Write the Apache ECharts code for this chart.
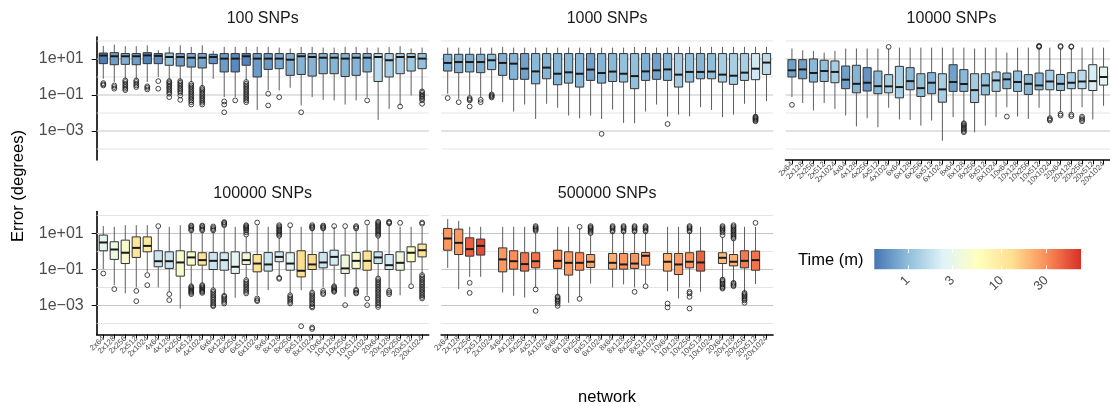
<!DOCTYPE html>
<html><head><meta charset="utf-8">
<script src="https://cdn.jsdelivr.net/npm/echarts@6/dist/echarts.min.js"></script>
<style>html,body{margin:0;padding:0;background:#fff}#chart{width:1110px;height:406px}</style>
</head><body><div id="chart"></div>
<script>
// ---------- categories & tick labels ----------
const networks = ['2x64','2x128','2x256','2x512','2x1024','4x64','4x128','4x256','4x512','4x1024',
  '6x64','6x128','6x256','6x512','6x1024','8x64','8x128','8x256','8x512','8x1024',
  '10x64','10x128','10x256','10x512','10x1024','20x64','20x128','20x256','20x512','20x1024'];
const panelTitles = ['100 SNPs','1000 SNPs','10000 SNPs','100000 SNPs','500000 SNPs'];
// y values are log10(error in degrees)
const yMin = -4.61, yMax = 2.22;
const yMajorTicks = [1, -1, -3];
const yTickLabels = ['1e+01', '1e\u221201', '1e\u221203'];
const yGridValues = [2, 1, 0, -1, -2, -3, -4];
const legendTicks = [1, 3, 10, 30];
const timeMin = 0.44, timeMax = 70;
const palette = ['#4575B4','#91BFDB','#E0F3F8','#FFFFBF','#FEE090','#FC8D59','#D73027'];

// ---------- 100 SNPs ----------
const snp100Hi  = [1.72,1.80,1.71,1.71,1.76,1.48,1.67,1.76,1.67,1.76,1.45,1.67,1.67,1.67,1.67,1.67,1.63,1.58,1.67,1.67,1.63,1.63,1.67,1.67,1.63,1.63,1.67,1.71,1.58,1.63];
const snp100Q3  = [1.33,1.35,1.30,1.30,1.35,1.30,1.33,1.30,1.30,1.30,1.26,1.30,1.30,1.30,1.30,1.30,1.30,1.30,1.30,1.30,1.30,1.30,1.30,1.30,1.30,1.30,1.30,1.30,1.30,1.30];
const snp100Med = [1.19,1.15,1.15,1.15,1.20,1.17,1.11,1.11,1.07,1.07,1.11,1.02,1.02,1.15,1.02,1.02,1.02,0.96,1.15,1.11,1.07,1.07,1.02,1.07,1.07,1.11,0.93,1.11,1.11,1.02];
const snp100Q1  = [0.74,0.68,0.70,0.68,0.74,0.74,0.65,0.61,0.55,0.50,0.74,0.28,0.28,0.65,0.00,0.42,0.46,0.09,0.14,0.05,0.18,0.18,0.03,0.09,0.28,-0.25,0.00,0.18,0.33,0.46];
const snp100Lo  = [-0.10,-0.28,-0.10,-0.10,-0.28,0.00,-0.15,-0.19,-0.28,-0.56,-0.10,-1.12,-1.12,-0.19,-1.83,-0.75,-0.75,-0.60,-1.58,-1.12,-1.27,-1.30,-1.53,-1.30,-1.12,-2.38,-1.77,-1.58,-1.03,-0.75];
const snp100Time = [0.48,0.7,0.85,0.7,0.5,0.58,1.1,0.7,0.78,0.78,0.6,0.68,0.55,0.52,0.68,0.68,0.8,0.85,0.9,0.9,0.9,0.9,0.9,0.9,0.85,1.6,1.3,1.3,1.2,1.05];
const snp100Out = [[-0.34,-0.41,-0.47],[-0.47,-0.56,-0.65],[-0.19,-0.28,-0.38,-0.47,-0.56,-0.65,-0.73],[-0.19,-0.28,-0.38,-0.47,-0.56],[-0.52,-0.60,-0.69],
  [-0.23,-0.65],[-0.23,-0.30,-0.38,-0.47,-0.56,-0.65,-0.75,-0.84,-0.93,-1.12],[-0.23,-0.32,-0.41,-0.50,-0.60,-0.69,-0.78,-0.88,-1.03,-1.27],
  [-0.38,-0.47,-0.56,-0.65,-0.75,-0.84,-0.93,-1.03,-1.12,-1.21,-1.30,-1.40,-1.53],[-0.60,-0.69,-0.78,-0.88,-0.97,-1.07,-1.16,-1.25,-1.34,-1.43,-1.53],
  [],[-1.36,-1.53,-1.96],[-1.30],[-0.28,-0.38,-0.47,-0.56,-0.65,-0.75,-0.84,-0.93,-1.03,-1.12,-1.21,-1.30,-1.40],[],
  [-0.93,-1.58],[-1.12],[],[-1.96],[],[],[],[],[],[-1.30],[],[],[-1.64],[],[-0.80,-0.88,-0.97,-1.05,-1.12,-1.21,-1.30,-1.49]];

// ---------- 1000 SNPs ----------
const snp1000Hi  = [1.63,1.63,1.63,1.63,1.63,1.67,1.63,1.63,1.63,1.63,1.63,1.63,1.63,1.63,1.63,1.63,1.63,1.67,1.67,1.63,1.63,1.67,1.67,1.67,1.67,1.67,1.67,1.67,1.67,1.67];
const snp1000Q3  = [1.26,1.26,1.26,1.26,1.26,1.30,1.30,1.30,1.30,1.30,1.30,1.30,1.30,1.30,1.30,1.30,1.30,1.30,1.30,1.30,1.30,1.30,1.30,1.30,1.30,1.30,1.30,1.30,1.30,1.30];
const snp1000Med = [0.78,0.83,0.83,0.83,0.93,0.78,0.74,0.46,0.31,0.52,0.18,0.26,0.18,0.41,0.22,0.30,0.18,0.05,0.31,0.37,0.42,0.13,0.28,0.28,0.30,0.13,0.07,0.24,0.46,0.80];
const snp1000Q1  = [0.33,0.24,0.28,0.24,0.41,0.09,-0.13,-0.13,-0.38,-0.10,-0.43,-0.34,-0.56,-0.19,-0.34,-0.25,-0.28,-0.65,-0.19,-0.13,-0.19,-0.56,-0.28,-0.10,-0.10,-0.28,-0.41,-0.19,-0.15,0.14];
const snp1000Lo  = [-0.93,-1.21,-1.03,-1.12,-0.84,-1.40,-1.92,-1.53,-2.33,-1.49,-1.71,-2.14,-2.29,-2.14,-2.33,-1.81,-2.55,-2.57,-1.92,-1.53,-2.20,-2.09,-2.18,-1.68,-1.83,-2.23,-2.09,-1.49,-2.14,-1.34];
const snp1000Time = [0.85,0.85,0.85,0.85,1.0,0.85,0.9,0.72,0.95,0.9,0.9,0.95,0.95,0.72,0.9,0.95,1.05,1.05,0.85,0.72,0.9,1.25,1.05,0.9,1.0,1.3,1.3,1.3,2.0,1.6];
const snp1000Out = [[-1.17],[-1.40],[-1.17,-1.24,-1.30,-1.64],[-1.27,-1.40],[-0.97,-1.03,-1.08,-1.14],[],[],[],[],[],[],[],[],[],[-3.16],
  [],[],[],[],[],[-2.61],[],[],[],[],[],[],[],[-2.20,-2.25,-2.30,-2.35,-2.40,-2.46],[]];

// ---------- 10000 SNPs ----------
const snp10000Hi  = [1.58,1.48,1.45,1.35,1.45,1.58,1.58,1.58,1.58,1.58,1.63,1.63,1.63,1.63,1.63,1.63,1.63,1.58,1.63,1.63,1.35,1.63,1.63,1.58,1.63,1.58,1.58,1.63,1.63,1.63];
const snp10000Q3  = [0.96,0.96,1.00,0.93,0.89,0.61,0.65,0.52,0.33,0.13,0.59,0.52,0.18,0.24,0.18,0.68,0.41,0.18,0.18,0.28,0.22,0.33,0.13,0.22,0.37,0.14,0.24,0.37,0.68,0.55];
const snp10000Med = [0.37,0.42,0.22,0.33,0.28,-0.15,-0.38,-0.32,-0.51,-0.52,-0.56,-0.23,-0.62,-0.32,-0.69,-0.28,-0.39,-0.73,-0.47,-0.19,-0.13,-0.28,-0.38,-0.47,-0.25,-0.38,-0.32,-0.25,-0.23,0.00];
const snp10000Q1  = [0.00,-0.10,-0.28,-0.25,-0.32,-0.65,-0.88,-0.78,-0.93,-0.88,-1.16,-0.71,-1.08,-0.93,-1.40,-0.80,-0.80,-1.42,-0.99,-0.80,-0.65,-0.80,-0.97,-0.71,-0.71,-0.75,-0.65,-0.65,-0.75,-0.45];
const snp10000Lo  = [-1.12,-1.45,-1.86,-1.45,-1.77,-2.14,-2.74,-2.29,-2.79,-1.71,-2.36,-2.38,-2.70,-2.42,-3.54,-2.23,-2.51,-3.07,-2.70,-2.23,-1.68,-2.20,-2.33,-1.71,-2.20,-1.96,-1.96,-1.68,-2.36,-1.60];
const snp10000Time = [0.72,0.72,0.95,1.05,1.3,0.72,0.9,0.62,0.95,1.3,1.3,0.95,1.05,0.9,1.3,0.72,0.95,1.25,1.05,1.3,0.9,1.05,0.95,0.95,1.3,1.05,1.3,1.6,2.2,2.6];
const snp10000Out = [[-1.55],[],[],[],[],[],[],[],[],[1.67],[],[],[],[],[],[],[-2.57,-2.63,-2.70,-2.77,-2.85,-2.92,-3.00,-3.07],[],[],[],
  [-2.20],[],[],[1.67,1.70,1.73],[-2.29,-2.36,-2.42],[1.67,1.72,-2.05,-2.14],[1.67,1.70,-2.09,-2.18],[-2.20,-2.29,-2.38,-2.46],[],[]];

// ---------- 100000 SNPs ----------
const snp100000Hi  = [1.41,1.37,1.46,1.46,1.46,1.28,1.37,1.46,1.09,1.09,1.09,1.33,1.37,0.81,1.46,1.37,0.76,1.37,1.37,1.19,1.19,1.37,1.28,1.19,1.46,0.76,1.46,1.37,1.37,1.37];
const snp100000Q3  = [0.91,0.54,0.63,0.81,0.81,0.04,-0.02,0.04,-0.02,-0.07,-0.06,-0.07,-0.02,-0.07,-0.17,-0.06,-0.02,-0.07,0.04,-0.17,-0.06,0.07,-0.20,-0.06,0.02,-0.02,-0.17,-0.02,0.26,0.41];
const snp100000Med = [0.50,0.11,-0.07,0.20,0.31,-0.54,-0.54,-0.61,-0.33,-0.48,-0.52,-0.48,-0.85,-0.48,-0.67,-0.72,-0.30,-0.67,-1.07,-0.72,-0.61,-0.30,-0.94,-0.52,-0.52,-0.33,-0.76,-0.63,-0.07,0.07];
const snp100000Q1  = [0.04,-0.44,-0.67,-0.33,-0.02,-0.85,-0.94,-1.37,-0.76,-0.76,-1.00,-1.04,-1.22,-0.72,-1.13,-1.09,-0.57,-1.04,-1.41,-1.00,-0.91,-0.76,-1.22,-0.94,-1.04,-0.67,-1.00,-1.04,-0.57,-0.30];
const snp100000Lo  = [-0.98,-1.87,-2.33,-2.00,-1.13,-2.00,-2.24,-3.17,-1.87,-1.78,-2.06,-2.39,-2.57,-1.50,-2.43,-2.15,-1.37,-2.33,-2.15,-2.19,-2.00,-1.87,-2.52,-2.06,-2.43,-1.41,-2.06,-2.43,-1.78,-1.26];
const snp100000Time = [2.7,3.3,4.5,11,10,1.9,1.9,4.5,4.5,12,1.9,2.0,2.7,3.8,12,1.9,2.0,2.7,13,14,1.9,2.1,3.5,4.5,12,1.9,2.2,3.5,5,12];
const snp100000Out = [[-1.22],[-2.09],[],[-2.19,-2.76],[-1.31,-1.87],[1.41],[-2.37,-2.70],[],
  [1.17,1.24,1.31,1.39,1.44,-1.93,-2.00,-2.06,-2.13,-2.19,-2.24,-2.30,-2.37],
  [1.17,1.24,1.31,1.39,1.44,-1.87,-1.93,-2.00,-2.06,-2.13,-2.19,-2.24,-2.30],
  [1.17,1.24,1.31,1.39,-2.15,-2.24,-2.33,-2.43,-2.52,-2.61,-2.70,-2.80,-2.89,-2.98,-3.04],
  [1.46,1.52,1.59,1.63,-2.46,-2.52,-2.61,-2.70,-2.80,-2.89],[],
  [0.94,1.06,1.17,1.24,1.30,1.35,1.41,1.46,-1.59,-1.69,-1.78,-1.87,-1.96,-2.06,-2.15,-2.24,-2.33],
  [1.61,-2.61,-2.70,-2.76],[],
  [0.87,0.94,1.02,1.09,1.17,1.24,1.31,1.39,1.46,-1.46,-1.52],
  [1.46,-2.43,-2.52,-2.61,-2.70,-2.80,-2.89],[-4.15],
  [1.28,1.33,1.39,1.46,-2.28,-2.37,-2.46,-2.56,-2.65,-2.74,-2.85,-2.93,-3.04,-3.11,-4.22,-4.30],
  [1.28,1.33,1.39,1.44,-2.19,-2.30,-2.37],[1.41,-1.93,-2.00,-2.06,-2.13,-2.19,-2.24],[1.41,-2.98],
  [1.28,1.35,1.41,-2.13,-2.19,-2.28,-2.33],[1.61,-2.61,-2.98],
  [0.87,0.94,1.02,1.09,1.17,1.24,1.31,1.39,1.46,1.52,1.59,1.65,-1.50,-1.59,-1.69,-1.78,-1.87,-1.96,-2.06,-2.15,-2.24,-2.33,-2.43,-2.52,-2.61,-2.70,-2.80,-2.89,-2.98,-3.08],
  [1.56,1.61,1.65,-2.19,-2.28,-2.37],[1.59],[-1.93],
  [1.54,1.61,-1.31,-1.41,-1.50,-1.59,-1.69,-1.78,-1.87,-1.96,-2.06,-2.15,-2.24,-2.33,-2.43,-2.52,-2.61]];

// ---------- 500000 SNPs (x1024 networks not run) ----------
const snp500000Hi  = [1.80,1.70,1.37,1.37,null,1.37,1.37,1.37,1.06,null,1.37,1.37,1.28,0.91,null,1.06,1.06,1.06,1.06,null,1.37,1.37,1.06,1.37,null,0.81,0.63,1.37,1.37,null];
const snp500000Q3  = [1.28,1.24,0.76,0.69,null,0.20,0.04,-0.07,-0.07,null,0.07,-0.02,-0.07,-0.17,null,-0.11,-0.11,-0.11,-0.06,null,-0.11,-0.11,-0.07,0.02,null,-0.07,-0.17,0.04,0.02,null];
const snp500000Med = [0.72,0.48,0.13,0.31,null,-0.44,-0.54,-0.70,-0.54,null,-0.52,-0.63,-0.63,-0.57,null,-0.63,-0.72,-0.67,-0.24,null,-0.57,-0.72,-0.57,-0.61,null,-0.35,-0.57,-0.52,-0.48,null];
const snp500000Q1  = [0.07,-0.17,-0.26,-0.20,null,-1.13,-0.98,-1.09,-0.91,null,-0.94,-1.31,-1.04,-0.89,null,-0.98,-0.98,-0.94,-0.76,null,-1.09,-1.28,-0.91,-1.09,null,-0.67,-0.80,-0.91,-1.04,null];
const snp500000Lo  = [-0.91,-2.09,-1.41,-1.41,null,-2.28,-2.46,-2.56,-2.00,null,-2.43,-2.85,-2.52,-1.78,null,-2.00,-1.83,-2.00,-1.78,null,-2.20,-2.61,-2.00,-2.24,null,-1.50,-1.69,-2.24,-1.81,null];
const snp500000Time = [27,27,45,55,null,27,30,38,38,null,30,27,30,24,null,22,28,28,27,null,21,27,28,45,null,19,21,36,38,null];
const snp500000Out = [[],[],[-1.74,-2.30],[],[],[],[],[],[1.15,1.22,1.28,1.35,1.41,-2.11,-3.30],[],
  [-2.50,-2.57,-2.65,-2.72,-2.80,-2.89,-3.02],[],[1.37,-2.63],[1.02,1.09,1.17,1.24,1.30,1.35,1.41],[],
  [1.11,1.19,1.28,1.35,1.41],[1.11,1.19,1.28,1.35,1.41],[1.11,1.19,1.28,1.35,1.41,-2.24],[1.11,1.19,1.28,1.35,1.41,-1.93],[],
  [-2.89,-3.11],[],[1.11,1.19,1.28,1.35,1.41,-2.24,-2.33,-2.52,-3.17],[],[],
  [0.91,1.06,1.15,1.22,1.28,1.35,1.41,-1.56,-1.63,-1.70,-1.78,-1.85,-1.93,-2.00,-2.06],
  [0.72,0.80,0.87,0.94,1.02,1.09,1.17,1.24,1.31,1.39,1.46,-1.74,-1.80,-1.87,-1.93],
  [-2.30,-2.37,-2.43,-2.50,-2.57,-2.65,-2.72,-2.85],[1.59],[]];

// ---------- build ----------
const FONT = '"Liberation Sans", Arial, Helvetica, sans-serif';
const lMin = Math.log10(timeMin), lMax = Math.log10(timeMax);
function hexToRgb(h){return [parseInt(h.slice(1,3),16),parseInt(h.slice(3,5),16),parseInt(h.slice(5,7),16)];}
function timeColor(t){
  let f = (Math.log10(t) - lMin) / (lMax - lMin);
  f = Math.max(0, Math.min(1, f));
  const p = f * (palette.length - 1);
  const i = Math.min(palette.length - 2, Math.floor(p));
  const r = p - i;
  const a = hexToRgb(palette[i]), b = hexToRgb(palette[i+1]);
  const c = a.map((v,k)=>Math.round(v + (b[k]-v)*r));
  return 'rgb(' + c.join(',') + ')';
}

const panels = [
  {lo:snp100Lo, q1:snp100Q1, med:snp100Med, q3:snp100Q3, hi:snp100Hi, time:snp100Time, out:snp100Out},
  {lo:snp1000Lo, q1:snp1000Q1, med:snp1000Med, q3:snp1000Q3, hi:snp1000Hi, time:snp1000Time, out:snp1000Out},
  {lo:snp10000Lo, q1:snp10000Q1, med:snp10000Med, q3:snp10000Q3, hi:snp10000Hi, time:snp10000Time, out:snp10000Out},
  {lo:snp100000Lo, q1:snp100000Q1, med:snp100000Med, q3:snp100000Q3, hi:snp100000Hi, time:snp100000Time, out:snp100000Out},
  {lo:snp500000Lo, q1:snp500000Q1, med:snp500000Med, q3:snp500000Q3, hi:snp500000Hi, time:snp500000Time, out:snp500000Out}
];

const gridRects = [
  {left:96.7, top:37, width:332, height:123},
  {left:441.1, top:37, width:332, height:123},
  {left:785.5, top:37, width:332, height:123},
  {left:96.7, top:211.5, width:332, height:123},
  {left:441.1, top:211.5, width:332, height:123}
];
const legendRect = {left:874.3, top:249, width:206.7, height:20.3};

const catIdx = networks.map((_, i) => i);
const evenIdx = catIdx.filter(i => i % 2 === 0);
const oddIdx = catIdx.filter(i => i % 2 === 1);
const grids = [], xAxes = [], yAxes = [], series = [];
const xLabelStyle = {rotate:45, margin:3, fontSize:7.8, color:'#4d4d4d', fontFamily:FONT,
  hideOverlap:false, showMinLabel:true, showMaxLabel:true, formatter:(v)=>networks[Math.round(v)]};

panels.forEach((p, gi) => {
  grids.push(Object.assign({containLabel:false}, gridRects[gi]));
  const showX = gi >= 2, showY = (gi === 0 || gi === 3);
  const xi = xAxes.length;
  // main axis: line + all ticks + even labels
  xAxes.push({
    type:'value', gridIndex:gi, min:-0.6, max:29.6, show:showX, position:'bottom',
    splitLine:{show:false},
    axisLine:{show:true, onZero:false, lineStyle:{color:'#000', width:1.6}},
    axisTick:{show:true, customValues:catIdx, length:4, lineStyle:{color:'#000', width:1}},
    axisLabel:Object.assign({show:true, customValues:evenIdx}, xLabelStyle)
  });
  // companion axis for the odd labels (keeps ECharts from dropping overlapping neighbours)
  xAxes.push({
    type:'value', gridIndex:gi, min:-0.6, max:29.6, show:showX, position:'bottom', offset:0,
    splitLine:{show:false}, axisLine:{show:false, onZero:false}, axisTick:{show:false},
    axisLabel:Object.assign({show:true, customValues:oddIdx}, xLabelStyle)
  });
  yAxes.push({
    type:'value', gridIndex:gi, min:yMin, max:yMax, show:showY,
    splitLine:{show:false},
    axisLine:{show:true, onZero:false, lineStyle:{color:'#000', width:1.6}},
    axisTick:{show:true, customValues:yMajorTicks, length:5, lineStyle:{color:'#000', width:1}},
    axisLabel:{show:true, customValues:yMajorTicks, margin:13, fontSize:16, color:'#4d4d4d', fontFamily:FONT,
      formatter:(v)=>yTickLabels[yMajorTicks.indexOf(Math.round(v))]}
  });
  // grid lines
  series.push({
    type:'custom', xAxisIndex:xi, yAxisIndex:gi, silent:true, z:1,
    data: yGridValues.map(v => [0, v]),
    renderItem:(params, api) => {
      const cs = params.coordSys;
      const v = api.value(1);
      const y = api.coord([0, v])[1];
      const major = yMajorTicks.indexOf(Math.round(v)) >= 0;
      return {type:'line', shape:{x1:cs.x, y1:y, x2:cs.x + cs.width, y2:y},
        style:{stroke: major ? '#c6c6c6' : '#dedede', lineWidth: major ? 1.1 : 0.8}};
    }
  });
  // boxes
  const boxData = [], boxColors = [];
  for (let i = 0; i < networks.length; i++) {
    if (p.med[i] === null) continue;
    boxData.push([i, p.lo[i], p.q1[i], p.med[i], p.q3[i], p.hi[i]]);
    boxColors.push(timeColor(p.time[i]));
  }
  series.push({
    type:'custom', xAxisIndex:xi, yAxisIndex:gi, silent:true, z:3,
    data: boxData,
    renderItem:(params, api) => {
      const x = api.value(0);
      const pLo = api.coord([x, api.value(1)]);
      const pQ1 = api.coord([x, api.value(2)]);
      const pMed = api.coord([x, api.value(3)]);
      const pQ3 = api.coord([x, api.value(4)]);
      const pHi = api.coord([x, api.value(5)]);
      const w = api.size([0.75, 0])[0];
      const cx = pLo[0];
      const col = boxColors[params.dataIndex];
      return {type:'group', children:[
        {type:'line', shape:{x1:cx, y1:pHi[1], x2:cx, y2:pQ3[1]}, style:{stroke:'#5e5e5e', lineWidth:1}},
        {type:'line', shape:{x1:cx, y1:pQ1[1], x2:cx, y2:pLo[1]}, style:{stroke:'#5e5e5e', lineWidth:1}},
        {type:'rect', shape:{x:cx - w/2, y:pQ3[1], width:w, height:pQ1[1] - pQ3[1]}, style:{fill:col, stroke:'#333333', lineWidth:1}},
        {type:'line', shape:{x1:cx - w/2, y1:pMed[1], x2:cx + w/2, y2:pMed[1]}, style:{stroke:'#1a1a1a', lineWidth:2}}
      ]};
    }
  });
  // outliers
  const outData = [];
  p.out.forEach((arr, i) => arr.forEach(v => outData.push([i, v])));
  series.push({
    type:'scatter', xAxisIndex:xi, yAxisIndex:gi, silent:true, z:4,
    symbol:'circle', symbolSize:4.8,
    itemStyle:{color:'rgba(255,255,255,0)', borderColor:'#1a1a1a', borderWidth:1},
    data: outData
  });
});

// legend colorbar
const LG = 5;
grids.push(Object.assign({containLabel:false}, legendRect));
const legendPos = legendTicks.map(t => Math.log10(t));
const lx = xAxes.length;
xAxes.push({
  type:'value', gridIndex:LG, min:lMin, max:lMax, z:10, position:'bottom',
  splitLine:{show:false}, axisLine:{show:false},
  axisTick:{show:true, inside:true, customValues:legendPos, length:4, lineStyle:{color:'#ffffff', width:1}},
  axisLabel:{show:true, customValues:legendPos, rotate:45, margin:9, fontSize:13, color:'#4d4d4d', fontFamily:FONT,
    formatter:(v)=>{let k=0,d=1e9;legendPos.forEach((q,j)=>{if(Math.abs(q-v)<d){d=Math.abs(q-v);k=j;}});return String(legendTicks[k]);}}
});
xAxes.push({
  type:'value', gridIndex:LG, min:lMin, max:lMax, position:'top', z:10,
  splitLine:{show:false}, axisLine:{show:false}, axisLabel:{show:false},
  axisTick:{show:true, inside:true, customValues:legendPos, length:4, lineStyle:{color:'#ffffff', width:1}}
});
yAxes.push({type:'value', gridIndex:LG, min:0, max:1, show:false, splitLine:{show:false}});
series.push({
  type:'custom', xAxisIndex:lx, yAxisIndex:LG, silent:true, z:2,
  data:[[lMin, 0]],
  renderItem:(params, api) => {
    const a = api.coord([lMin, 1]);
    const b = api.coord([lMax, 0]);
    return {type:'rect', shape:{x:a[0], y:a[1], width:b[0]-a[0], height:b[1]-a[1]},
      style:{fill:{type:'linear', x:0, y:0, x2:1, y2:0, global:false,
        colorStops: palette.map((c, i) => ({offset: i/(palette.length-1), color:c}))}}};
  }
});

function txt(text, x, y, size, color, align, rot) {
  return {type:'text', x:x, y:y, rotation: rot || 0, silent:true,
    style:{text:text, fontSize:size, fontFamily:FONT, fill:color,
      align:align, textAlign:align, verticalAlign:'middle', textVerticalAlign:'middle'}};
}
const graphics = [];
panelTitles.forEach((t, i) => {
  const r = gridRects[i];
  graphics.push(txt(t, r.left + r.width/2, r.top - 18, 16, '#1a1a1a', 'center'));
});
graphics.push(txt('Error (degrees)', 18, 186, 16.5, '#000', 'center', Math.PI/2));
graphics.push(txt('network', 607, 397, 16.5, '#000', 'center'));
graphics.push(txt('Time (m)', 798, 260, 16.5, '#000', 'left'));

const chart = echarts.init(document.getElementById('chart'), null, {renderer:'canvas'});
chart.setOption({
  animation:false,
  backgroundColor:'#ffffff',
  grid: grids, xAxis: xAxes, yAxis: yAxes, series: series,
  graphic: graphics
});
</script></body></html>
